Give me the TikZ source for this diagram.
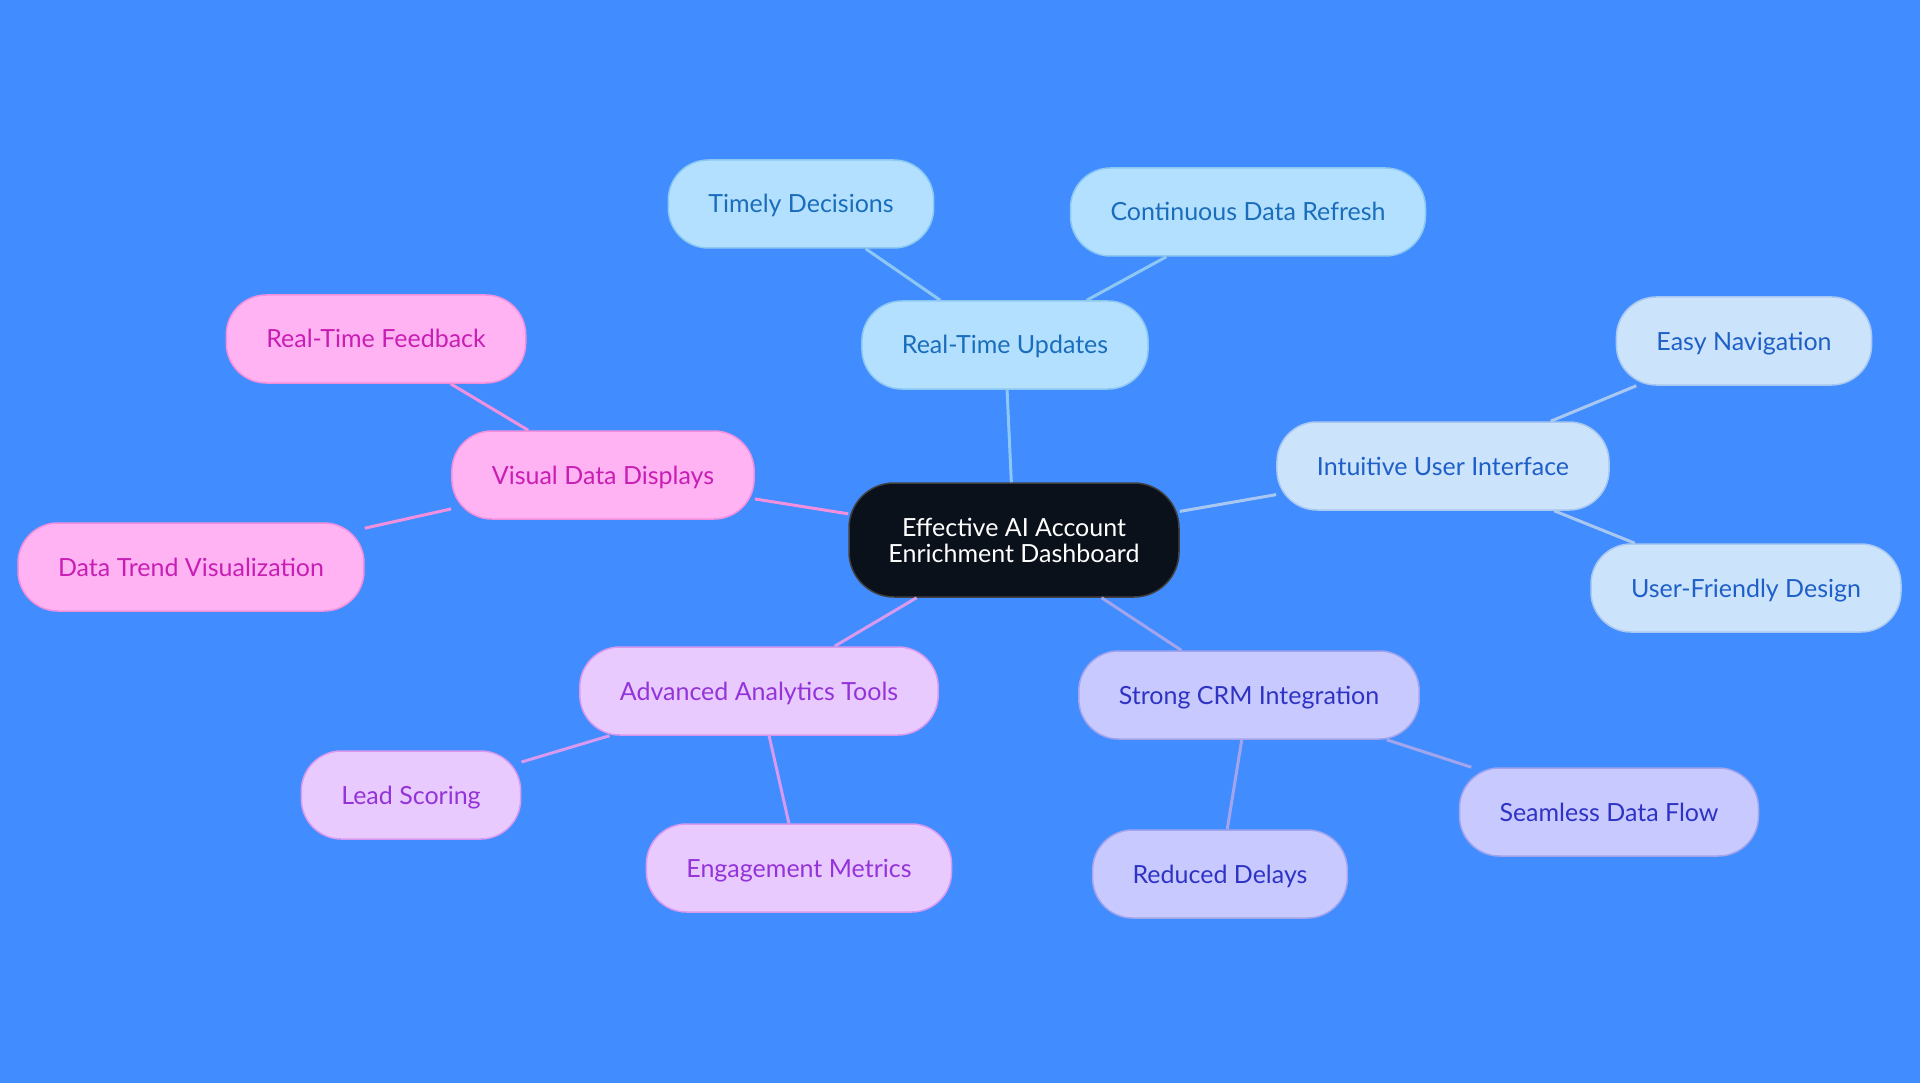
\documentclass[tikz,border=0pt]{standalone}
\usepackage{fontspec}
\setmainfont{Lato}
\usepackage{xcolor}
\usetikzlibrary{positioning}
\definecolor{mmbg}{HTML}{418CFF}
\definecolor{mmcore}{HTML}{0B111B}
\definecolor{rtfill}{HTML}{B3E0FF}
\definecolor{rtline}{HTML}{8CC8F2}
\definecolor{rttext}{HTML}{1A6DBA}
\definecolor{uifill}{HTML}{CCE3FC}
\definecolor{uiline}{HTML}{A8C8F2}
\definecolor{uitext}{HTML}{1E5FC8}
\definecolor{crmfill}{HTML}{C8CAFF}
\definecolor{crmline}{HTML}{A2A4EC}
\definecolor{crmtext}{HTML}{2F33C4}
\definecolor{anfill}{HTML}{E8CAFF}
\definecolor{anline}{HTML}{D89AEE}
\definecolor{antext}{HTML}{9333D8}
\definecolor{visfill}{HTML}{FFB3F2}
\definecolor{visline}{HTML}{F290DE}
\definecolor{vistext}{HTML}{C81EB4}

\begin{document}
\begin{tikzpicture}[x=1pt, y=-1pt,
  pill/.style={rectangle, draw=#1line, fill=#1fill, text=#1text, line width=1.5pt,
    rounded corners=40pt, minimum height=88pt, inner xsep=40pt,
    text height=18pt, text depth=0pt,
    font=\fontsize{25pt}{26pt}\selectfont},
  link/.style={draw=#1line, line width=3pt},
]
  \fill[mmbg] (0,0) rectangle (1920,1083);

  % core
  \node[rectangle, draw=black!75, fill=mmcore, text=white, line width=1.5pt,
    rounded corners=45pt, minimum width=330pt, minimum height=114pt,
    align=center, font=\fontsize{25pt}{26pt}\selectfont] (core) at (1014,540)
    {Effective AI Account\\Enrichment Dashboard};

  % real-time branch
  \node[pill=rt] (rtu) at (1005,345) {Real-Time Updates};
  \node[pill=rt] (timely) at (801,204) {Timely Decisions};
  \node[pill=rt] (refresh) at (1248,212) {Continuous Data Refresh};

  % interface branch
  \node[pill=ui] (ui) at (1443,466) {Intuitive User Interface};
  \node[pill=ui] (nav) at (1744,341) {Easy Navigation};
  \node[pill=ui] (design) at (1746,588) {User-Friendly Design};

  % crm branch
  \node[pill=crm] (crm) at (1249,695) {Strong CRM Integration};
  \node[pill=crm] (flow) at (1609,812) {Seamless Data Flow};
  \node[pill=crm] (delays) at (1220,874) {Reduced Delays};

  % analytics branch
  \node[pill=an] (tools) at (759,691) {Advanced Analytics Tools};
  \node[pill=an] (lead) at (411,795) {Lead Scoring};
  \node[pill=an] (engage) at (799,868) {Engagement Metrics};

  % visual branch
  \node[pill=vis] (visual) at (603,475) {Visual Data Displays};
  \node[pill=vis] (feedback) at (376,339) {Real-Time Feedback};
  \node[pill=vis] (trend) at (191,567) {Data Trend Visualization};

  \draw[link=rt] (core) -- (rtu);
  \draw[link=rt] (rtu) -- (timely);
  \draw[link=rt] (rtu) -- (refresh);
  \draw[link=ui] (core) -- (ui);
  \draw[link=ui] (ui) -- (nav);
  \draw[link=ui] (ui) -- (design);
  \draw[link=crm] (core) -- (crm);
  \draw[link=crm] (crm) -- (flow);
  \draw[link=crm] (crm) -- (delays);
  \draw[link=an] (core) -- (tools);
  \draw[link=an] (tools) -- (lead);
  \draw[link=an] (tools) -- (engage);
  \draw[link=vis] (core) -- (visual);
  \draw[link=vis] (visual) -- (feedback);
  \draw[link=vis] (visual) -- (trend);
\end{tikzpicture}
\end{document}
